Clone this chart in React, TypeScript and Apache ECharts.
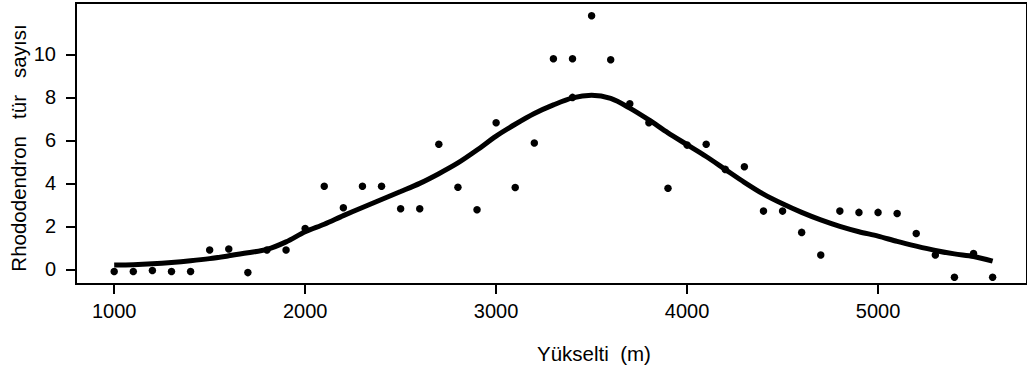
import React, { useEffect, useRef } from "react";
import * as echarts from "echarts";

// Tick labels
const xTicks = [1000, 2000, 3000, 4000, 5000];
const yTicks = [0, 2, 4, 6, 8, 10];

// Observed species counts (scatter)
const dotElevation = [
  1000, 1100, 1200, 1300, 1400, 1500, 1600, 1700, 1800, 1900,
  2000, 2100, 2200, 2300, 2400, 2500, 2600, 2700, 2800, 2900,
  3000, 3100, 3200, 3300, 3400, 3500, 3600, 3700, 3800, 3900,
  4000, 4100, 4200, 4300, 4400, 4500, 4600, 4700, 4800, 4900,
  5000, 5100, 5200, 5300, 5400, 5500, 5600, 3400,
];
const dotCount = [
  -0.1, -0.1, -0.05, -0.1, -0.1, 0.9, 0.95, -0.15, 0.9, 0.9,
  1.9, 3.87, 2.87, 3.87, 3.87, 2.82, 2.82, 5.82, 3.82, 2.77,
  6.82, 3.81, 5.88, 9.8, 9.8, 11.8, 9.75, 7.7, 6.82, 3.77,
  5.78, 5.82, 4.65, 4.77, 2.71, 2.71, 1.72, 0.67, 2.71, 2.65,
  2.65, 2.6, 1.67, 0.67, -0.37, 0.74, -0.37, 8.0,
];

// Smoothed trend curve
const curveElevation = [
  1000, 1100, 1200, 1300, 1400, 1500, 1600, 1700, 1800, 1900,
  2000, 2100, 2200, 2300, 2400, 2500, 2600, 2700, 2800, 2900,
  3000, 3100, 3200, 3300, 3400, 3500, 3600, 3700, 3800, 3900,
  4000, 4100, 4200, 4300, 4400, 4500, 4600, 4700, 4800, 4900,
  5000, 5100, 5200, 5300, 5400, 5500, 5600,
];
const curveCount = [
  0.2, 0.22, 0.26, 0.32, 0.4, 0.5, 0.63, 0.77, 0.93, 1.28,
  1.75, 2.1, 2.5, 2.88, 3.25, 3.62, 4.0, 4.45, 4.95, 5.55,
  6.2, 6.75, 7.25, 7.65, 7.98, 8.1, 7.95, 7.5, 6.95, 6.35,
  5.8, 5.25, 4.65, 4.05, 3.5, 3.05, 2.65, 2.3, 2.0, 1.75,
  1.55, 1.3, 1.08, 0.88, 0.72, 0.6, 0.38,
];

const FONT = "'Liberation Sans', Arial, sans-serif";

export default function App() {
  const ref = useRef<HTMLDivElement>(null);

  useEffect(() => {
    if (!ref.current) return;
    const chart = echarts.init(ref.current, null, { renderer: "svg" });
    const option = {
      animation: false,
      backgroundColor: "#ffffff",
      grid: {
        left: 76,
        top: 3,
        right: -6,
        bottom: 81,
        show: true,
        borderColor: "#000",
        borderWidth: 2,
        containLabel: false,
      },
      xAxis: {
        type: "value",
        min: 800,
        max: 5780,
        splitLine: { show: false },
        axisLine: { show: true, onZero: false, lineStyle: { color: "#000", width: 2 } },
        axisTick: {
          show: true,
          length: 10,
          customValues: xTicks,
          lineStyle: { color: "#000", width: 2 },
        },
        axisLabel: {
          customValues: xTicks,
          formatter: (v: number) => String(v),
          margin: 17,
          color: "#000",
          fontSize: 20,
          fontFamily: FONT,
        },
      },
      yAxis: {
        type: "value",
        min: -0.68,
        max: 12.39,
        splitLine: { show: false },
        axisLine: { show: true, onZero: false, lineStyle: { color: "#000", width: 2 } },
        axisTick: {
          show: true,
          length: 10,
          customValues: yTicks,
          lineStyle: { color: "#000", width: 2 },
        },
        axisLabel: {
          customValues: yTicks,
          formatter: (v: number) => String(v),
          margin: 20,
          color: "#000",
          fontSize: 20,
          fontFamily: FONT,
        },
      },
      graphic: [
        {
          type: "text",
          x: 594,
          y: 353,
          style: {
            text: "Yükselti  (m)",
            fill: "#000",
            font: `20.5px ${FONT}`,
            textAlign: "center",
            textVerticalAlign: "middle",
          },
        },
        {
          type: "text",
          x: 18,
          y: 148,
          rotation: Math.PI / 2,
          style: {
            text: "Rhododendron   tür   sayısı",
            fill: "#000",
            font: `20.5px ${FONT}`,
            textAlign: "center",
            textVerticalAlign: "middle",
          },
        },
      ],
      series: [
        {
          type: "scatter",
          data: dotElevation.map((x, i) => [x, dotCount[i]]),
          symbol: "circle",
          symbolSize: 7.5,
          itemStyle: { color: "#000", opacity: 1 },
          z: 3,
        },
        {
          type: "line",
          data: curveElevation.map((x, i) => [x, curveCount[i]]),
          showSymbol: false,
          symbol: "none",
          smooth: 0.3,
          lineStyle: { color: "#000", width: 5, cap: "butt" },
          z: 2,
        },
      ],
    };
    chart.setOption(option);
    return () => chart.dispose();
  }, []);

  return (
    <div
      ref={ref}
      style={{ position: "fixed", left: 0, top: 0, width: 1027, height: 365, background: "#fff" }}
    />
  );
}
